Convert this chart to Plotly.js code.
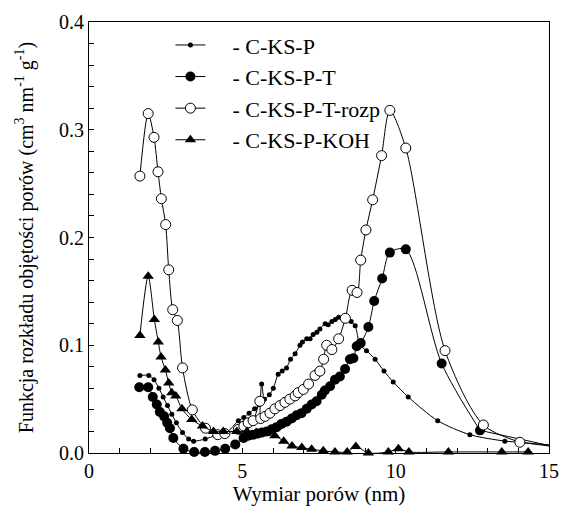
<!DOCTYPE html>
<html>
<head>
<meta charset="utf-8">
<script src="https://cdn.plot.ly/plotly-3.0.1.min.js"></script>
<style>html,body{margin:0;padding:0;background:#fff;}#chart{width:561px;height:519px;}</style>
</head>
<body>
<div id="chart"></div>
<script>
// C-KS-P (small filled dots)
const ksP_x = [1.66,1.95,2.12,2.28,2.42,2.56,2.70,2.85,3.05,3.25,3.41,3.79,4.11,4.49,4.87,5.05,5.22,5.40,5.55,5.63,5.72,5.88,6.01,6.17,6.30,6.44,6.57,6.72,6.88,6.96,7.10,7.21,7.31,7.43,7.53,7.70,7.80,7.92,8.03,8.14,8.28,8.41,8.55,8.68,8.84,9.05,9.33,9.62,9.92,10.41,11.37,12.42,13.56];
const ksP_y = [0.072,0.072,0.068,0.060,0.052,0.044,0.036,0.028,0.019,0.013,0.011,0.013,0.016,0.019,0.030,0.033,0.037,0.041,0.045,0.064,0.050,0.054,0.060,0.073,0.076,0.079,0.087,0.092,0.100,0.103,0.106,0.106,0.110,0.112,0.115,0.120,0.119,0.122,0.124,0.126,0.125,0.125,0.122,0.118,0.100,0.095,0.087,0.076,0.066,0.052,0.030,0.017,0.011];
// C-KS-P-T (large filled dots)
const ksPT_x = [1.64,1.93,2.08,2.21,2.31,2.45,2.55,2.64,2.75,3.08,3.43,3.78,4.11,4.44,4.77,5.04,5.20,5.35,5.50,5.65,5.80,5.96,6.12,6.28,6.44,6.61,6.77,6.93,7.10,7.26,7.42,7.59,7.69,7.86,8.02,8.18,8.35,8.51,8.62,8.73,8.86,9.11,9.30,9.56,9.81,10.33,11.50,12.75];
const ksPT_y = [0.061,0.061,0.052,0.045,0.038,0.034,0.028,0.023,0.014,0.004,0.001,0.001,0.002,0.004,0.008,0.014,0.016,0.017,0.018,0.019,0.020,0.022,0.024,0.027,0.029,0.032,0.035,0.037,0.041,0.045,0.048,0.054,0.058,0.062,0.068,0.071,0.078,0.087,0.088,0.099,0.102,0.117,0.141,0.162,0.186,0.189,0.083,0.021];
// C-KS-P-T-rozp (open circles)
const ksPTr_x = [1.66,1.93,2.12,2.25,2.36,2.50,2.60,2.73,2.88,3.05,3.37,3.80,4.20,4.43,4.87,5.05,5.19,5.35,5.57,5.60,5.74,5.90,6.06,6.23,6.39,6.55,6.72,6.82,6.99,7.16,7.37,7.53,7.65,7.75,7.92,8.14,8.36,8.58,8.74,8.86,9.03,9.25,9.54,9.81,10.33,11.61,12.86,14.05];
const ksPTr_y = [0.257,0.315,0.293,0.261,0.236,0.212,0.170,0.133,0.123,0.079,0.040,0.023,0.017,0.018,0.022,0.025,0.028,0.030,0.048,0.032,0.034,0.037,0.041,0.044,0.047,0.050,0.053,0.056,0.059,0.064,0.072,0.076,0.087,0.100,0.096,0.106,0.125,0.151,0.149,0.179,0.207,0.235,0.276,0.318,0.283,0.095,0.026,0.010];
// C-KS-P-KOH (filled triangles)
const ksPK_x = [1.66,1.93,2.13,2.26,2.35,2.49,2.60,2.70,2.83,3.03,3.35,3.70,4.06,4.38,4.82,5.15,5.45,5.75,6.06,6.35,6.62,6.94,7.26,7.64,8.02,8.42,8.70,9.11,9.76,10.09,10.43,11.72,13.46,14.32];
const ksPK_y = [0.109,0.164,0.124,0.103,0.089,0.077,0.065,0.056,0.053,0.041,0.031,0.025,0.020,0.020,0.020,0.020,0.019,0.018,0.016,0.011,0.0065,0.005,0.0035,0.002,0.001,0.001,0.006,0.000,0.001,0.004,0.001,0.001,0.001,0.001];
// fitted curve ends at the right edge
const tail_x = 15;
const ksP_tail = 0.0075;
const ksPT_tail = 0.007;
const ksPTr_tail = 0.0065;

const names = ['- C-KS-P','- C-KS-P-T','- C-KS-P-T-rozp','- C-KS-P-KOH'];
const pad = '&nbsp;&nbsp;&nbsp;&nbsp;';
const lineStyle = {color:'#000', width:1, shape:'spline', smoothing:0.8};

function mainTrace(x, y, name, marker) {
  return {x:x, y:y, name:pad+name, mode:'lines+markers', type:'scatter',
          line:lineStyle, marker:marker, cliponaxis:false};
}
function tailTrace(x, y, tx, ty) {
  return {x:[x[x.length-1], tx], y:[y[y.length-1], ty], mode:'lines', type:'scatter',
          line:lineStyle, showlegend:false, hoverinfo:'skip'};
}

const data = [
  tailTrace(ksP_x, ksP_y, tail_x, ksP_tail),
  tailTrace(ksPT_x, ksPT_y, tail_x, ksPT_tail),
  tailTrace(ksPTr_x, ksPTr_y, tail_x, ksPTr_tail),
  mainTrace(ksP_x, ksP_y, names[0], {symbol:'circle', size:5, color:'#000'}),
  mainTrace(ksPT_x, ksPT_y, names[1], {symbol:'circle', size:10, color:'#000'}),
  mainTrace(ksPTr_x, ksPTr_y, names[2], {symbol:'circle', size:10, color:'#fff', line:{color:'#000', width:1}}),
  mainTrace(ksPK_x, ksPK_y, names[3], {symbol:'triangle-up', size:10, color:'#000'})
];

const fam = 'Liberation Serif';
function f(size) { return {family:fam, size:size, color:'#000'}; }
const layout = {
  width:561, height:519,
  margin:{l:89, r:12, t:22, b:66},
  paper_bgcolor:'#fff', plot_bgcolor:'#fff',
  font:f(19),
  showlegend:true,
  legend:{x:0.177, y:0.995, xanchor:'left', yanchor:'top', bgcolor:'rgba(0,0,0,0)',
          font:f(22), tracegroupgap:0, itemwidth:30},
  xaxis:{range:[0,15], dtick:5, tick0:0, ticks:'inside', ticklen:5, tickcolor:'#000',
         showline:true, mirror:true, linecolor:'#000', linewidth:1, showgrid:false, zeroline:false,
         minor:{dtick:1, ticks:'inside', ticklen:5, tickcolor:'#000'},
         tickfont:f(20),
         title:{text:'Wymiar porów (nm)', font:f(21), standoff:5}},
  yaxis:{range:[0,0.4], dtick:0.1, tick0:0, tickformat:'.1f', ticks:'inside', ticklen:5, tickcolor:'#000',
         showline:true, mirror:true, linecolor:'#000', linewidth:1, showgrid:false, zeroline:false,
         minor:{dtick:0.02, ticks:'inside', ticklen:5, tickcolor:'#000'},
         tickfont:f(20),
         title:{text:'Funkcja rozkładu objętości porów (cm<sup>3</sup> nm<sup>-1</sup> g<sup>-1</sup>)', font:f(20), standoff:20}}
};
Plotly.newPlot('chart', data, layout, {staticPlot:true});
</script>
</body>
</html>
